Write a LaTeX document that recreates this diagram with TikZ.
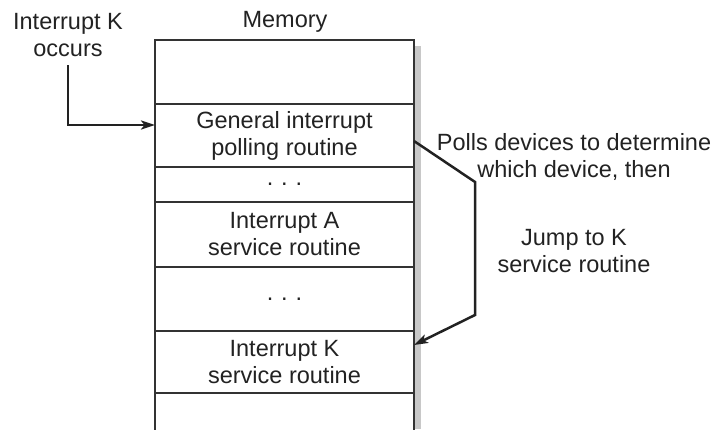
\documentclass[tikz,border=0pt]{standalone}
\usepackage{fontspec}
\setmainfont{Liberation Sans}
\usetikzlibrary{arrows.meta,calc}
\definecolor{ink}{HTML}{222222}
\definecolor{boxline}{HTML}{333333}
\definecolor{shadowgray}{HTML}{C8C8C8}
\begin{document}
\begin{tikzpicture}[x=1pt,y=-1pt,
  lbl/.style={font=\fontsize{23.5}{27}\selectfont, text=ink, align=center, inner sep=0pt},
  memrow/.style={draw=boxline, line width=2.7pt, minimum width=259pt, inner sep=0pt, outer sep=0pt, anchor=north west, lbl},
  conn/.style={draw=ink, line width=2.5pt, -{Stealth[length=14pt,width=9pt,inset=3.5pt]}}
]
\useasboundingbox (0,0) rectangle (714,429);
% shadow
\fill[shadowgray] (415,46) rectangle (421,429);
% memory rows
\node[memrow, minimum height=64pt] (r1) at (155,40) {};
\node[memrow, minimum height=63pt] (r2) at (155,104) {General interrupt\\polling routine};
\node[memrow, minimum height=35pt] (r3) at (155,167) {.\,\,.\,\,.};
\node[memrow, minimum height=65pt] (r4) at (155,202) {Interrupt A\\service routine};
\node[memrow, minimum height=64pt] (r5) at (155,267) {.\,\,.\,\,.};
\node[memrow, minimum height=62pt] (r6) at (155,331) {Interrupt K\\service routine};
\coordinate (botL) at (155,432);
\coordinate (botR) at (414,432);
\draw[draw=boxline, line width=2.7pt] (botL) -- (r6.south west) -- (r6.south east) -- (botR);
% labels
\node[lbl] (mem) at (285,22) {Memory};
\node[lbl] (ik) at (68,35) {Interrupt K\\occurs};
\node[lbl] (polls) at (574,157) {Polls devices to determine\\which device, then};
\node[lbl] (jump) at (574,251) {Jump to K\\service routine};
% connectors
\coordinate (ikstart) at (68,65);
\draw[conn] (ikstart) |- (r2.west |- 0,125);
\coordinate (bendA) at (475,182);
\coordinate (bendB) at (475,315);
\draw[conn] (r2.east |- 0,141) -- (bendA) -- (bendB) -- (r6.east |- 0,345);
\end{tikzpicture}
\end{document}
